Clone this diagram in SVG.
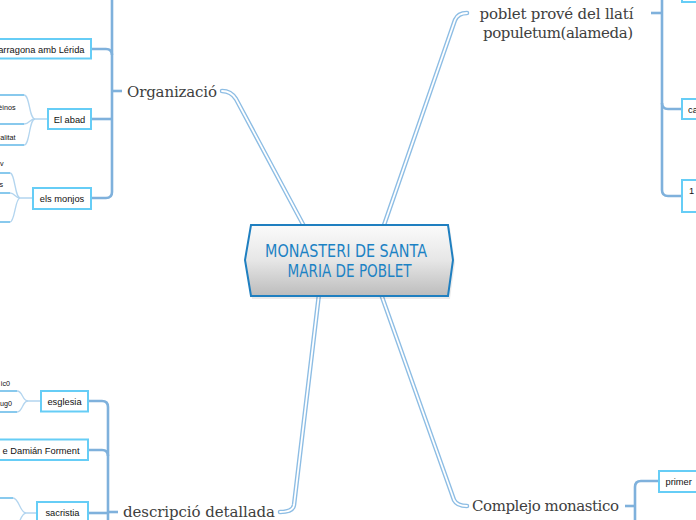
<svg xmlns="http://www.w3.org/2000/svg" width="696" height="520" viewBox="0 0 696 520">
<style>
.main{fill:none;stroke:#8dbde4;stroke-width:4.5;stroke-linecap:round;stroke-linejoin:round}
.mainin{fill:none;stroke:#ffffff;stroke-width:1.8;stroke-linecap:round;stroke-linejoin:round}
.br{fill:none;stroke:#7fb1dc;stroke-width:2.6;stroke-linejoin:round}
.cv{fill:none;stroke:#b3d5ef;stroke-width:1.3}
.ul{fill:none;stroke:#62b8e8;stroke-width:1.5}
.box{fill:#ffffff;stroke:#66cdf6;stroke-width:2}
.t2{font-family:"DejaVu Serif","Liberation Serif",serif;font-size:15px;fill:#404040}
.t3{font-family:"Liberation Sans",Arial,sans-serif;font-size:9.3px;fill:#111}
.t4{font-family:"Liberation Sans",Arial,sans-serif;font-size:7.2px;fill:#111}
.ct{font-family:"DejaVu Sans","Liberation Sans",sans-serif;font-size:18px;fill:#1c82c4}
</style>
<defs>
<linearGradient id="cg" x1="0" y1="0" x2="0" y2="1">
<stop offset="0" stop-color="#fbfbfb"/>
<stop offset="0.5" stop-color="#e6e6e6"/>
<stop offset="1" stop-color="#bcbcbc"/>
</linearGradient>
</defs>
<g id="connectors">
<path class="main" d="M305 228 L236 99 Q231 91 222 91"/>
<path class="mainin" d="M305 228 L236 99 Q231 91 222 91"/>
<path class="main" d="M383 228 L455 20 Q458 13 467 13"/>
<path class="mainin" d="M383 228 L455 20 Q458 13 467 13"/>
<path class="main" d="M319 294 L294 505 Q293 512 280 512"/>
<path class="mainin" d="M319 294 L294 505 Q293 512 280 512"/>
<path class="main" d="M381 294 L454 500 Q457 506 467 506"/>
<path class="mainin" d="M381 294 L454 500 Q457 506 467 506"/>
<path class="br" d="M122 91 H112"/>
<path class="br" d="M112 -5 V192 Q112 198 106 198 H91"/>
<path class="br" d="M91 49 H106 Q112 49 112 55"/>
<path class="br" d="M91 119 H112"/>
<path class="br" d="M651 13 H662"/>
<path class="br" d="M662 -5 V190 Q662 196 668 196 H682"/>
<path class="br" d="M682 109 H668 Q662 109 662 103"/>
<path class="br" d="M118 512 H108"/>
<path class="br" d="M88 401 H102 Q108 401 108 407 V525"/>
<path class="br" d="M88 450 H102 Q108 450 108 456"/>
<path class="br" d="M88 513 H108"/>
<path class="br" d="M625 506 H635"/>
<path class="br" d="M659 481 H641 Q635 481 635 487 V525"/>
<path class="cv" d="M48 119 H35 C29 119 30 95 24 95"/>
<path class="cv" d="M35 119 C29 119 30 124 24 124"/>
<path class="cv" d="M35 119 C29 119 30 145 24 145"/>
<path class="ul" d="M-5 95 H24 M-5 124 H24 M-5 145 H24"/>
<path class="cv" d="M33 198 H20 C15 198 15 173 10 173"/>
<path class="cv" d="M20 198 C15 198 15 193 10 193"/>
<path class="cv" d="M20 198 C15 198 15 222 10 222"/>
<path class="ul" d="M-5 173 H10 M-5 193 H10 M-5 222 H10"/>
<path class="cv" d="M41 401 H28 C22 401 23 391 17 391"/>
<path class="cv" d="M28 401 C22 401 23 412 17 412"/>
<path class="ul" d="M-5 391 H17 M-5 412 H17"/>
<path class="cv" d="M37 513 H26 C20 513 19 498 13 498"/>
<path class="cv" d="M26 513 C20 513 19 530 13 530"/>
<path class="ul" d="M-5 498 H13"/>
</g>
<g id="center">
<path d="M252 228 H450 L455 263 L450 299 H252 L247 263 Z" fill="#000" opacity="0.08"/>
<path d="M251 225 H448 L453 260 L448 296 H251 L245 260 Z" fill="url(#cg)" stroke="#1f7fc0" stroke-width="2"/>
<text class="ct" x="346" y="256.5" text-anchor="middle" textLength="162" lengthAdjust="spacingAndGlyphs">MONASTERI DE SANTA</text>
<text class="ct" x="349.5" y="276.5" text-anchor="middle" textLength="124" lengthAdjust="spacingAndGlyphs">MARIA DE POBLET</text>
</g>
<g id="organizacio">
<text class="t2" x="127" y="97" textLength="90">Organizació</text>
</g>
<g id="poblet">
<text class="t2" x="556.5" y="18.5" text-anchor="middle" textLength="154">poblet prové del llatí</text>
<text class="t2" x="558" y="37.5" text-anchor="middle" textLength="150">populetum(alameda)</text>
</g>
<g id="descripcio">
<text class="t2" x="123" y="517" textLength="152">descripció detallada</text>
</g>
<g id="complejo">
<text class="t2" x="472" y="511" textLength="147">Complejo monastico</text>
</g>
<g id="tarragona">
<rect class="box" x="-5" y="39" width="96" height="19.5"/>
<text class="t3" x="84.5" y="52.5" text-anchor="end">arragona amb Lérida</text>
</g>
<g id="abad">
<rect class="box" x="48" y="109" width="43" height="20"/>
<text class="t3" x="69.5" y="122.5" text-anchor="middle">El abad</text>
</g>
<g id="abad-c1"><text class="t4" x="15.5" y="110" text-anchor="end">éinos</text></g>
<g id="abad-c2"><text class="t4" x="15.5" y="140" text-anchor="end">alitat</text></g>
<g id="monjos">
<rect class="box" x="33" y="188" width="58" height="21"/>
<text class="t3" x="62" y="201.5" text-anchor="middle">els monjos</text>
</g>
<g id="monjos-c1"><text class="t4" x="3.5" y="166" text-anchor="end">v</text></g>
<g id="monjos-c2"><text class="t4" x="3" y="187" text-anchor="end">s</text></g>
<g id="esglesia">
<rect class="box" x="41" y="391" width="47" height="20.5"/>
<text class="t3" x="64.5" y="404.5" text-anchor="middle">esglesia</text>
</g>
<g id="esglesia-c1"><text class="t4" x="10" y="385.5" text-anchor="end">ic0</text></g>
<g id="esglesia-c2"><text class="t4" x="12" y="405.5" text-anchor="end">ug0</text></g>
<g id="forment">
<rect class="box" x="-5" y="439.5" width="93" height="20.5"/>
<text class="t3" x="79.5" y="453.5" text-anchor="end">e Damián Forment</text>
</g>
<g id="sacristia">
<rect class="box" x="37" y="502" width="51" height="25"/>
<text class="t3" x="62.5" y="516" text-anchor="middle">sacristia</text>
</g>
<g id="top-box">
<rect class="box" x="682" y="-10" width="20" height="12"/>
</g>
<g id="ca">
<rect class="box" x="682" y="99" width="20" height="20"/>
<text class="t3" x="688" y="112.5">ca</text>
</g>
<g id="one">
<rect class="box" x="682" y="180" width="20" height="32"/>
<text class="t3" x="689" y="193.5">1</text>
</g>
<g id="primer">
<rect class="box" x="659" y="471" width="45" height="21"/>
<text class="t3" x="665.5" y="484.5">primer</text>
</g>
</svg>
